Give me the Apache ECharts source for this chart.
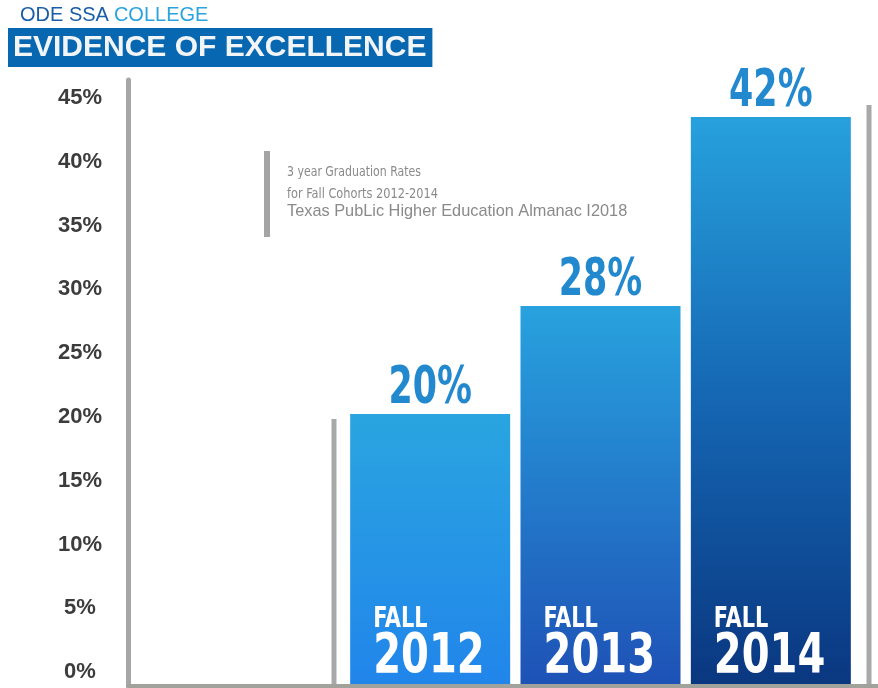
<!DOCTYPE html>
<html>
<head>
<meta charset="utf-8">
<script src="https://cdn.jsdelivr.net/npm/echarts@6/dist/echarts.min.js"></script>
<style>
html,body{margin:0;padding:0;background:#fff;}
#chart{width:878px;height:688px;}
</style>
</head>
<body>
<div id="chart"></div>
<script>
// ---- data ----
var categories = ['2012', '2013', '2014'];
var categoryPrefix = 'FALL';
var rates = [20, 28, 42];
var tickValues = [0, 5, 10, 15, 20, 25, 30, 35, 40, 45];
var tickLabels = ['0%', '5%', '10%', '15%', '20%', '25%', '30%', '35%', '40%', '45%'];
var noteLines = ['3 year Graduation Rates', 'for Fall Cohorts 2012-2014', 'Texas PubLic Higher Education Almanac I2018'];

// ---- styles ----
var COND = '"DejaVu Sans Condensed", sans-serif';
var BAR_W = 160;
var gradStops = [
  [[0, '#2aa5e0'], [1, '#2185ea']],
  [[0, '#28a2de'], [1, '#1e52b6']],
  [[0, '#27a1dd'], [0.5, '#1566b3'], [1, '#0a3780']]
];
function grad(stops) {
  return new echarts.graphic.LinearGradient(0, 0, 0, 1, stops.map(function (s) { return { offset: s[0], color: s[1] }; }));
}

var chart = echarts.init(document.getElementById('chart'), null, { renderer: 'canvas' });

function renderLabels(params, api) {
  var idx = api.value(0), val = api.value(1);
  var top = api.coord([idx, val]);
  var base = api.coord([idx, 0]);
  var left = top[0] - BAR_W / 2 + 23;
  return {
    type: 'group',
    children: [
      {
        type: 'text', x: top[0], y: top[1] - 24, scaleX: 0.76,
        style: { text: val + '%', align: 'center', verticalAlign: 'middle',
          fontFamily: COND, fontWeight: 'bold', fontSize: 51, fill: '#2389cf' }
      },
      {
        type: 'text', x: left, y: base[1] - 64, scaleX: 0.83,
        style: { text: categoryPrefix, align: 'left', verticalAlign: 'middle',
          fontFamily: COND, fontWeight: 'bold', fontSize: 28, fill: '#ffffff' }
      },
      {
        type: 'text', x: left, y: base[1] - 26, scaleX: 0.81,
        style: { text: categories[idx], align: 'left', verticalAlign: 'middle',
          fontFamily: COND, fontWeight: 'bold', fontSize: 55, fill: '#ffffff' }
      }
    ]
  };
}

var option = {
  backgroundColor: '#ffffff',
  animation: false,
  title: [
    {
      left: 20, top: 5, padding: 0,
      text: '{a|ODE SSA} {b|COLLEGE}',
      textStyle: {
        rich: {
          a: { fontFamily: 'Liberation Sans', fontWeight: 'normal', fontSize: 20, color: '#1a5ea8' },
          b: { fontFamily: 'Liberation Sans', fontWeight: 'normal', fontSize: 20, color: '#2aa3df' }
        }
      }
    },
    {
      left: 8, top: 28,
      text: 'EVIDENCE OF EXCELLENCE',
      backgroundColor: '#0767b1',
      padding: [4, 6, 4, 5],
      textStyle: { fontFamily: 'Liberation Sans', fontWeight: 'bold', fontSize: 30, lineHeight: 31, color: '#f2f5f8' }
    }
  ],
  grid: [
    { left: 128, right: 0, top: 80, bottom: 2 },
    { left: 345, right: 22, top: 76.5, bottom: 4 }
  ],
  xAxis: [
    {
      gridIndex: 0, type: 'value', min: 0, max: 1,
      axisLine: { show: true, onZero: false, lineStyle: { color: '#a2a29c', width: 4 } },
      axisTick: { show: false }, axisLabel: { show: false }, splitLine: { show: false }
    },
    {
      gridIndex: 1, type: 'category', data: categories,
      axisLine: { show: false }, axisTick: { show: false }, axisLabel: { show: false }
    }
  ],
  yAxis: [
    {
      gridIndex: 0, type: 'value',
      min: -(686 - 672) / (574 / 45),
      max: 45 + (98 - 80) / (574 / 45),
      axisLine: { show: true, lineStyle: { color: '#a6a6a6', width: 5 } },
      axisTick: { show: false },
      splitLine: { show: false },
      axisLabel: {
        customValues: tickValues,
        formatter: function (v) { var i = tickValues.indexOf(Math.round(v)); return i >= 0 ? tickLabels[i] : ''; },
        fontFamily: 'Liberation Sans', fontWeight: 'bold', fontSize: 22, color: '#3c3c3c',
        align: 'center', margin: 48
      }
    },
    {
      gridIndex: 1, type: 'value', min: 0, max: 45, show: false
    }
  ],
  series: [
    {
      type: 'bar', xAxisIndex: 1, yAxisIndex: 1,
      barWidth: BAR_W,
      data: rates.map(function (v, i) { return { value: v, itemStyle: { color: grad(gradStops[i]) } }; })
    },
    {
      type: 'custom', xAxisIndex: 1, yAxisIndex: 1, z: 5,
      data: rates.map(function (v, i) { return [i, v]; }),
      encode: { x: 0, y: 1 },
      renderItem: renderLabels
    }
  ],
  graphic: [
    { type: 'line', shape: { x1: 334, y1: 419, x2: 334, y2: 686 }, style: { stroke: '#a8a8a8', lineWidth: 5 } },
    { type: 'line', shape: { x1: 869, y1: 105, x2: 869, y2: 686 }, style: { stroke: '#a8a8a8', lineWidth: 5 } },
    { type: 'rect', shape: { x: 264, y: 151, width: 6, height: 86 }, style: { fill: '#a4a4a4' } },
    { type: 'text', x: 287, y: 172, scaleX: 0.84, style: { text: noteLines[0], verticalAlign: 'middle', fontFamily: COND, fontSize: 14.5, fill: '#8a8a8a' } },
    { type: 'text', x: 287, y: 194, scaleX: 0.87, style: { text: noteLines[1], verticalAlign: 'middle', fontFamily: COND, fontSize: 14.5, fill: '#8a8a8a' } },
    { type: 'text', x: 287, y: 211, scaleX: 0.96, style: { text: noteLines[2], verticalAlign: 'middle', fontFamily: 'Liberation Sans', fontSize: 17, fill: '#8a8a8a' } }
  ]
};
chart.setOption(option);
</script>
</body>
</html>
